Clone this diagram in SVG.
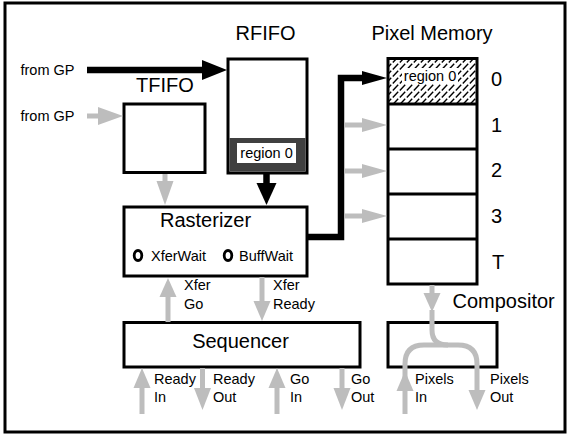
<svg xmlns="http://www.w3.org/2000/svg" width="569" height="435" viewBox="0 0 569 435">
<style>
.box{fill:#fff;stroke:#000;stroke-width:3}
.big{font-family:"Liberation Sans",Arial,sans-serif;font-size:20px;fill:#000}
.sm{font-family:"Liberation Sans",Arial,sans-serif;font-size:14.5px;fill:#000}
.gl{fill:none;stroke:#bdbdbd;stroke-width:5}
.gh{fill:#bdbdbd;stroke:none}
.bl{fill:none;stroke:#000;stroke-width:6.5}
.bh{fill:#000;stroke:none}
.led{fill:none;stroke:#000;stroke-width:2.8}
</style>
<defs>
<pattern id="hatch" patternUnits="userSpaceOnUse" width="7" height="7">
<line x1="0.8" y1="6.4" x2="6.2" y2="0.8" stroke="#000" stroke-width="1.4"/>
</pattern>
</defs>
<rect x="5" y="3" width="560" height="429" fill="#fff" stroke="#000" stroke-width="3"/>

<g id="labels">
<text class="sm" x="20.5" y="74.5">from GP</text>
<text class="sm" x="20.5" y="121">from GP</text>
</g>

<g id="rfifo">
<text class="big" x="265.5" y="39.5" text-anchor="middle">RFIFO</text>
<rect class="box" x="228" y="59" width="79" height="114"/>
<rect x="229.5" y="138" width="76" height="33.5" fill="#404040"/>
<rect x="237" y="143" width="59" height="20" fill="#fff"/>
<text class="sm" x="266.5" y="158" text-anchor="middle">region 0</text>
</g>

<g id="tfifo">
<text class="big" x="165" y="91.5" text-anchor="middle">TFIFO</text>
<rect class="box" x="124" y="104" width="81" height="68.5"/>
</g>

<g id="rasterizer">
<rect class="box" x="124" y="207" width="183" height="69"/>
<text class="big" x="160" y="227">Rasterizer</text>
<ellipse class="led" cx="138" cy="255.5" rx="3.8" ry="5"/>
<text class="sm" x="151" y="261">XferWait</text>
<ellipse class="led" cx="228" cy="255.5" rx="3.8" ry="5"/>
<text class="sm" x="239" y="261">BuffWait</text>
</g>

<g id="sequencer">
<rect class="box" x="124" y="322.5" width="236" height="44.5"/>
<text class="big" x="240.5" y="347.5" text-anchor="middle">Sequencer</text>
</g>

<g id="pixel-memory">
<text class="big" x="432" y="40" text-anchor="middle">Pixel Memory</text>
<rect x="388" y="58.5" width="89" height="45" fill="url(#hatch)"/>
<rect x="402" y="68" width="56" height="16" fill="#fff"/>
<text class="sm" x="430" y="81" text-anchor="middle">region 0</text>
<rect x="388" y="58.5" width="89" height="225.5" fill="none" stroke="#000" stroke-width="3"/>
<line x1="388" y1="104" x2="477" y2="104" stroke="#000" stroke-width="3"/>
<line x1="388" y1="149" x2="477" y2="149" stroke="#000" stroke-width="3"/>
<line x1="388" y1="194" x2="477" y2="194" stroke="#000" stroke-width="3"/>
<line x1="388" y1="239" x2="477" y2="239" stroke="#000" stroke-width="3"/>
<text class="big" x="491" y="86">0</text>
<text class="big" x="491" y="132">1</text>
<text class="big" x="491" y="177">2</text>
<text class="big" x="491" y="223">3</text>
<text class="big" x="492" y="269">T</text>
</g>

<g id="compositor">
<text class="big" x="452.5" y="307.5">Compositor</text>
<rect class="box" x="388" y="322.5" width="109" height="44.5"/>
</g>

<g id="connectors">
<line class="bl" x1="87" y1="70" x2="203" y2="70"/>
<polygon class="bh" points="202,60 227,70 202,80"/>
<line class="gl" x1="87" y1="116" x2="100" y2="116"/>
<polygon class="gh" points="98,107 123,116 98,125"/>
<line class="gl" x1="165" y1="174" x2="165" y2="184"/>
<polygon class="gh" points="156.5,181 173.5,181 165,205"/>
<line class="bl" x1="266.5" y1="174" x2="266.5" y2="185"/>
<polygon class="bh" points="256.5,183 276.5,183 266.5,205"/>
<polyline class="bl" points="307,237 341,237 341,78 364,78"/>
<polygon class="bh" points="362,71 387,78 362,85"/>
<line class="gl" x1="344" y1="125" x2="364" y2="125"/>
<polygon class="gh" points="362,118 387,125 362,132"/>
<line class="gl" x1="344" y1="171" x2="364" y2="171"/>
<polygon class="gh" points="362,164 387,171 362,178"/>
<line class="gl" x1="344" y1="216" x2="364" y2="216"/>
<polygon class="gh" points="362,209 387,216 362,223"/>
<line class="gl" x1="168" y1="295" x2="168" y2="322"/>
<polygon class="gh" points="168,278 176.5,297 159.5,297"/>
<text class="sm" x="184" y="290">Xfer</text>
<text class="sm" x="184" y="308.5">Go</text>
<line class="gl" x1="262" y1="277" x2="262" y2="303"/>
<polygon class="gh" points="253.5,301 270.5,301 262,321"/>
<text class="sm" x="273" y="290">Xfer</text>
<text class="sm" x="273" y="308.5">Ready</text>
<line class="gl" x1="142" y1="386" x2="142" y2="414"/>
<polygon class="gh" points="142,368 150.5,388 133.5,388"/>
<text class="sm" x="154" y="383.5">Ready</text>
<text class="sm" x="154" y="401.5">In</text>
<line class="gl" x1="202.5" y1="368" x2="202.5" y2="390"/>
<polygon class="gh" points="194,388 211,388 202.5,410"/>
<text class="sm" x="213" y="383.5">Ready</text>
<text class="sm" x="213" y="401.5">Out</text>
<line class="gl" x1="277" y1="386" x2="277" y2="414"/>
<polygon class="gh" points="277,368 285.5,388 268.5,388"/>
<text class="sm" x="290" y="383.5">Go</text>
<text class="sm" x="290" y="401.5">In</text>
<line class="gl" x1="342" y1="368" x2="342" y2="390"/>
<polygon class="gh" points="333.5,388 350.5,388 342,410"/>
<text class="sm" x="351" y="383.5">Go</text>
<text class="sm" x="351" y="401.5">Out</text>
<line class="gl" x1="432" y1="285" x2="432" y2="296"/>
<polygon class="gh" points="423.5,293 440.5,293 432,312"/>
<path class="gl" d="M432 310 L432 330 Q432 345 448 345"/>
<path class="gl" d="M405 388 L405 364 Q405 345 424 345 L458 345 Q477 345 477 364 L477 392"/>
<polygon class="gh" points="405,371 413.5,391 396.5,391"/>
<line class="gl" x1="405" y1="389" x2="405" y2="414"/>
<polygon class="gh" points="468.5,390 485.5,390 477,410"/>
<text class="sm" x="415" y="383.5">Pixels</text>
<text class="sm" x="415" y="401.5">In</text>
<text class="sm" x="490" y="383.5">Pixels</text>
<text class="sm" x="490" y="401.5">Out</text>
</g>
</svg>
